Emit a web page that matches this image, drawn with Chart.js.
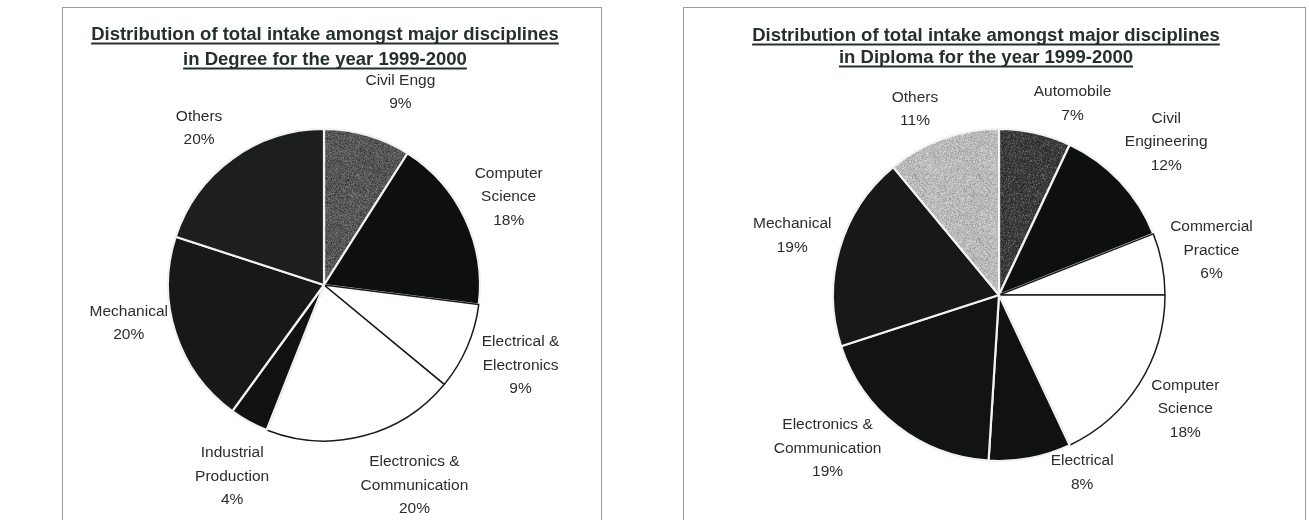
<!DOCTYPE html>
<html>
<head>
<meta charset="utf-8">
<script src="https://cdn.jsdelivr.net/npm/chart.js@4.4.0/dist/chart.umd.min.js"></script>
<style>
  body { margin: 0; background: #fff; width: 1309px; height: 520px; position: relative; overflow: hidden; }
  .panel { position: absolute; top: 7px; height: 520px; border: 1px solid #9c9c9c; border-bottom: none; }
  #degreeBox { left: 62px; width: 538px; }
  #diplomaBox { left: 683px; width: 621px; }
  canvas { display: block; }
</style>
</head>
<body>
<div class="panel" id="degreeBox"><canvas id="degreeChart" width="538" height="512"></canvas></div>
<div class="panel" id="diplomaBox"><canvas id="diplomaChart" width="621" height="512"></canvas></div>
<script>
// intake share (%) per discipline, 1999-2000
const degreeLabels = [['Civil Engg'], ['Computer', 'Science'], ['Electrical &', 'Electronics'],
  ['Electronics &', 'Communication'], ['Industrial', 'Production'], ['Mechanical'], ['Others']];
const degreeShares = [9, 18, 9, 20, 4, 20, 20];

const diplomaLabels = [['Automobile'], ['Civil', 'Engineering'], ['Commercial', 'Practice'],
  ['Computer', 'Science'], ['Electrical'], ['Electronics &', 'Communication'], ['Mechanical'], ['Others']];
const diplomaShares = [7, 12, 6, 18, 8, 19, 19, 11];

const degreeTitle = ['Distribution of total intake amongst major disciplines', 'in Degree for the year 1999-2000'];
const diplomaTitle = ['Distribution of total intake amongst major disciplines', 'in Diploma for the year 1999-2000'];

const FONT = '"Liberation Sans", Arial, sans-serif';

// grainy grey fill, like the old printed shading
function speckle(base, dots) {
  const size = 64;
  const c = document.createElement('canvas');
  c.width = c.height = size;
  const g = c.getContext('2d');
  g.fillStyle = base;
  g.fillRect(0, 0, size, size);
  const hash = n => {
    const v = Math.sin(n * 12.9898 + 78.233) * 43758.5453;
    return v - Math.floor(v);
  };
  let n = 1;
  dots.forEach(([colour, count]) => {
    g.fillStyle = colour;
    for (let i = 0; i < count; i++) {
      const px = Math.floor(hash(n++) * size);
      const py = Math.floor(hash(n++) * size);
      g.fillRect(px, py, 1, 1);
    }
  });
  return g.createPattern(c, 'repeat');
}

const DARK = '#161918';
const WHITE = '#ffffff';

// labels outside the rim: name lines + percentage, drawn under the slices
const outsideLabels = {
  id: 'outsideLabels',
  beforeDatasetsDraw(chart, args, opts) {
    const ctx = chart.ctx;
    const meta = chart.getDatasetMeta(0);
    const values = chart.data.datasets[0].data;
    ctx.save();
    ctx.font = opts.size + 'px ' + FONT;
    ctx.fillStyle = opts.color;
    ctx.textAlign = 'center';
    ctx.textBaseline = 'middle';
    meta.data.forEach((arc, i) => {
      const p = arc.getProps(['x', 'y', 'startAngle', 'endAngle', 'outerRadius'], true);
      const lines = chart.data.labels[i].concat([values[i] + '%']);
      const w = Math.max(...lines.map(l => ctx.measureText(l).width));
      const h = lines.length * opts.lineHeight;
      const mid = (p.startAngle + p.endAngle) / 2;
      const ux = Math.cos(mid), uy = Math.sin(mid);
      // distance from pie centre to the nearest point of the text box
      const gap = d => {
        const bx = d * ux, by = d * uy;
        const nx = Math.max(bx - w / 2, Math.min(0, bx + w / 2));
        const ny = Math.max(by - h / 2, Math.min(0, by + h / 2));
        return Math.hypot(nx, ny);
      };
      let d = p.outerRadius * 0.8;
      while (gap(d) < p.outerRadius + opts.pad) d += 0.5;
      const [sx, sy] = opts.shift[i] || [0, 0];
      const cx = p.x + d * ux + sx;
      const top = p.y + d * uy - h / 2 + opts.lineHeight / 2 + sy;
      lines.forEach((l, k) => ctx.fillText(l, cx, top + k * opts.lineHeight));
    });
    ctx.restore();
  }
};

// underlined two-line heading
const underlinedTitle = {
  id: 'underlinedTitle',
  afterDraw(chart, args, opts) {
    const ctx = chart.ctx;
    ctx.save();
    ctx.font = 'bold ' + opts.size + 'px ' + FONT;
    ctx.fillStyle = opts.color;
    ctx.strokeStyle = opts.color;
    ctx.lineWidth = 1.8;
    ctx.textAlign = 'center';
    ctx.textBaseline = 'middle';
    opts.lines.forEach((line, k) => {
      const y = opts.y[k];
      ctx.fillText(line, opts.x, y);
      const w = ctx.measureText(line).width;
      ctx.beginPath();
      ctx.moveTo(opts.x - w / 2, y + 8.5);
      ctx.lineTo(opts.x + w / 2, y + 8.5);
      ctx.stroke();
    });
    ctx.restore();
  }
};

function pieConfig(labels, shares, fills, radius, padding, title, shift) {
  return {
    type: 'pie',
    data: {
      labels: labels,
      datasets: [{
        data: shares,
        backgroundColor: fills,
        borderColor: fills.map(f => f === WHITE ? '#1c1c1c' : '#f2f2f2'),
        borderWidth: fills.map(f => f === WHITE ? 1.5 : 2.2)
      }]
    },
    options: {
      responsive: false,
      animation: false,
      events: [],
      radius: radius,
      layout: { padding: padding },
      plugins: {
        legend: { display: false },
        tooltip: { enabled: false },
        outsideLabels: { size: 15.5, lineHeight: 23.5, pad: 5, color: '#2c2c2c', shift: shift },
        underlinedTitle: title
      }
    },
    plugins: [outsideLabels, underlinedTitle]
  };
}

const civilFill = speckle('#555756', [['#737373', 900], ['#3c3c3c', 700]]);
const autoFill = speckle('#3a3c3b', [['#5e5e5e', 800], ['#262626', 600]]);
const othersFill = speckle('#bababa', [['#a0a0a0', 900], ['#d0d0d0', 800]]);

new Chart(document.getElementById('degreeChart'), pieConfig(
  degreeLabels, degreeShares,
  [civilFill, '#0e100f', WHITE, WHITE, '#101211', DARK, '#1c1f1d'],
  156, { left: 0, right: 16, top: 42, bottom: 0 },
  { lines: degreeTitle, x: 262, y: [27, 52], size: 18.5, color: '#26302a' },
  [[23, -9], [-2, 0], [4, -3], [40, 4], [9, 8], [0, -25], [-11, 0]]
));

new Chart(document.getElementById('diplomaChart'), pieConfig(
  diplomaLabels, diplomaShares,
  [autoFill, '#0e100f', WHITE, WHITE, '#101211', '#121413', DARK, othersFill],
  166, { left: 9, right: 0, top: 62, bottom: 0 },
  { lines: diplomaTitle, x: 302, y: [28, 50], size: 18.5, color: '#26302a' },
  [[30, 3], [3, 1], [0, -4], [2, -3], [46, -17], [-30, -29], [0, 1], [-16, 3]]
));
</script>
</body>
</html>
